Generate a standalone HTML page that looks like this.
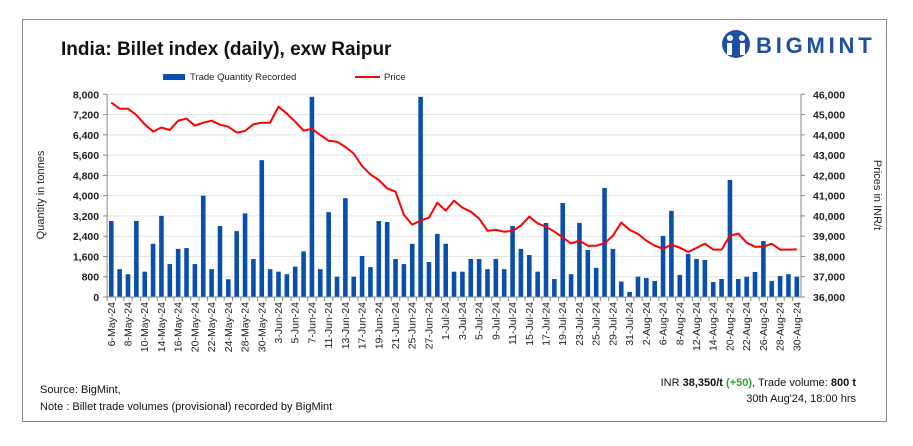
<!DOCTYPE html>
<html><head><meta charset="utf-8">
<style>
body{margin:0;background:#fff;font-family:"Liberation Sans",sans-serif;}
#wrap{position:relative;width:913px;height:446px;overflow:hidden;}
</style></head>
<body>
<div id="wrap">
<svg id="chart" width="913" height="446" xmlns="http://www.w3.org/2000/svg">
<rect x="22.5" y="19.5" width="864" height="402" fill="#fff" stroke="#8a8a8a" stroke-width="1"/>
<text x="61" y="55" font-size="19" font-weight="bold" fill="#111">India: Billet index (daily), exw Raipur</text>
<g>
<circle cx="736" cy="44" r="14" fill="#1d4fa3"/>
<circle cx="730" cy="38" r="3" fill="#fff"/><circle cx="742" cy="38" r="3" fill="#fff"/>
<rect x="727" y="43" width="5" height="12" fill="#fff"/><rect x="740" y="43" width="5" height="12" fill="#fff"/>
<text x="756" y="53" font-size="22" font-weight="bold" fill="#1d4fa3" letter-spacing="3.8">BIGMINT</text>
</g>
<g>
<rect x="163" y="74" width="22" height="6" fill="#0a4fad"/>
<text x="190" y="80" font-size="9.5" fill="#222">Trade Quantity Recorded</text>
<line x1="355" y1="77" x2="380" y2="77" stroke="#f00" stroke-width="2"/>
<text x="384" y="80" font-size="9.5" fill="#222">Price</text>
</g>
<g id="grid"></g><g id="bars"></g><g id="line"></g><g id="axes"></g><g id="xlabels"></g>
<text transform="translate(44,195) rotate(-90)" text-anchor="middle" font-size="11" fill="#222">Quantity in tonnes</text>
<text transform="translate(874,195) rotate(90)" text-anchor="middle" font-size="11" fill="#222">Prices in INR/t</text>
<text x="40" y="393" font-size="11" fill="#111">Source: BigMint,</text>
<text x="40" y="410" font-size="11" fill="#111">Note : Billet trade volumes (provisional) recorded by BigMint</text>
<text x="856" y="386" text-anchor="end" font-size="11" fill="#111">INR <tspan font-weight="bold">38,350/t</tspan> <tspan font-weight="bold" fill="#2e9e3e">(+50)</tspan>, Trade volume: <tspan font-weight="bold">800 t</tspan></text>
<text x="856" y="402" text-anchor="end" font-size="11" fill="#111">30th Aug'24, 18:00 hrs</text>
</svg>
</div>
<script>
const dates=["6-May-24","7-May-24","8-May-24","9-May-24","10-May-24","13-May-24","14-May-24","15-May-24","16-May-24","17-May-24","20-May-24","21-May-24","22-May-24","23-May-24","24-May-24","27-May-24","28-May-24","29-May-24","30-May-24","31-May-24",
"3-Jun-24","4-Jun-24","5-Jun-24","6-Jun-24","7-Jun-24","10-Jun-24","11-Jun-24","12-Jun-24","13-Jun-24","14-Jun-24","17-Jun-24","18-Jun-24","19-Jun-24","20-Jun-24","21-Jun-24","24-Jun-24","25-Jun-24","26-Jun-24","27-Jun-24","28-Jun-24",
"1-Jul-24","2-Jul-24","3-Jul-24","4-Jul-24","5-Jul-24","8-Jul-24","9-Jul-24","10-Jul-24","11-Jul-24","12-Jul-24","15-Jul-24","16-Jul-24","17-Jul-24","18-Jul-24","19-Jul-24","22-Jul-24","23-Jul-24","24-Jul-24","25-Jul-24","26-Jul-24","29-Jul-24","30-Jul-24","31-Jul-24",
"1-Aug-24","2-Aug-24","5-Aug-24","6-Aug-24","7-Aug-24","8-Aug-24","9-Aug-24","12-Aug-24","13-Aug-24","14-Aug-24","16-Aug-24","20-Aug-24","21-Aug-24","22-Aug-24","23-Aug-24","26-Aug-24","27-Aug-24","28-Aug-24","29-Aug-24","30-Aug-24"];
const quantity=[3000,1100,900,3000,1000,2100,3200,1300,1900,1930,1300,4000,1100,2800,700,2600,3300,1500,5400,1100,
1000,900,1200,1800,7900,1100,3350,800,3900,800,1620,1180,3000,2960,1500,1300,2100,7900,1380,2490,
2100,1000,1000,1500,1500,1100,1500,1100,2800,1900,1660,1000,2920,710,3710,900,2920,1860,1150,4300,1900,610,200,
800,750,630,2410,3400,870,1700,1500,1460,590,710,4620,710,800,990,2210,630,830,900,800];
const price=[45590,45290,45290,44980,44520,44160,44360,44240,44700,44800,44450,44600,44700,44500,44400,44110,44190,44520,44600,44600,
45390,45050,44650,44210,44300,43990,43710,43660,43400,43080,42460,42050,41770,41360,41200,40050,39570,39770,39910,40650,
40260,40750,40410,40210,39870,39270,39310,39220,39260,39520,39960,39630,39470,39220,38940,38640,38780,38530,38530,38650,39030,39670,39310,
39110,38780,38530,38380,38580,38430,38220,38420,38630,38340,38340,39030,39130,38680,38480,38480,38630,38340,38340,38350];
const leftTicks=[0,800,1600,2400,3200,4000,4800,5600,6400,7200,8000];
const rightTicks=[36000,37000,38000,39000,40000,41000,42000,43000,44000,45000,46000];

const NS="http://www.w3.org/2000/svg";
const X0=107.1,X1=801,Y0=297,Y1=94.3;
const band=(X1-X0)/dates.length;
const xc=i=>X0+band*(i+0.5);
const yL=v=>Y0-(v-0)/(8000-0)*(Y0-Y1);
const yR=v=>Y0-(v-36000)/(46000-36000)*(Y0-Y1);
function mk(tag,attrs,parent){const e=document.createElementNS(NS,tag);for(const k in attrs)e.setAttribute(k,attrs[k]);document.getElementById(parent).appendChild(e);return e;}
const fmt=v=>v.toLocaleString('en-US');

leftTicks.forEach((t,i)=>{
  const y=yL(t);
  if(i>0){const g=mk('line',{x1:X0,x2:X1,y1:y,y2:y,stroke:'#e3e3e3','stroke-width':1},'grid');
  
  }
  const tx=mk('text',{x:X0-8,y:y+4,'text-anchor':'end','font-size':'10.5','font-weight':'bold',fill:'#222'},'axes');
  tx.textContent=fmt(t);
  
  
  const tl=mk('line',{x1:X0-4,x2:X0,y1:y,y2:y,stroke:'#888'},'axes');
  
  
});
rightTicks.forEach(t=>{
  const y=yR(t);
  const tx=mk('text',{x:X1+12,y:y+4,'font-size':'10.5','font-weight':'bold',fill:'#222'},'axes');
  tx.textContent=fmt(t);
  
  
  const tl=mk('line',{x1:X1,x2:X1+4,y1:y,y2:y,stroke:'#888'},'axes');
  
  
});
const al=mk('line',{x1:X0,x2:X0,y1:Y1,y2:Y0,stroke:'#888'},'axes');


const ar=mk('line',{x1:X1,x2:X1,y1:Y1,y2:Y0,stroke:'#888'},'axes');


const ab=mk('line',{x1:X0,x2:X1,y1:Y0,y2:Y0,stroke:'#888'},'axes');



const bw=band*0.55;
quantity.forEach((v,i)=>{
  const r=mk('rect',{x:xc(i)-bw/2,y:yL(v),width:bw,height:Y0-yL(v),fill:'#0a4fad'},'bars');
  
  
});
const pts=price.map((v,i)=>xc(i).toFixed(1)+','+yR(v).toFixed(1)).join(' ');
const pl=mk('polyline',{points:pts,fill:'none',stroke:'#f00','stroke-width':2,'stroke-linejoin':'round'},'line');



dates.forEach((d,i)=>{
  const x=xc(i);
  const tk=mk('line',{x1:X0+band*i,x2:X0+band*i,y1:Y0,y2:Y0+4,stroke:'#888'},'axes');
  
  
  if(i%2===0){
    const t=mk('text',{transform:`translate(${x+3.5},${Y0+5}) rotate(-90)`,'text-anchor':'end','font-size':'10.5',fill:'#222'},'xlabels');
    t.textContent=d;
    
    
  }
});
</script>
</body></html>
